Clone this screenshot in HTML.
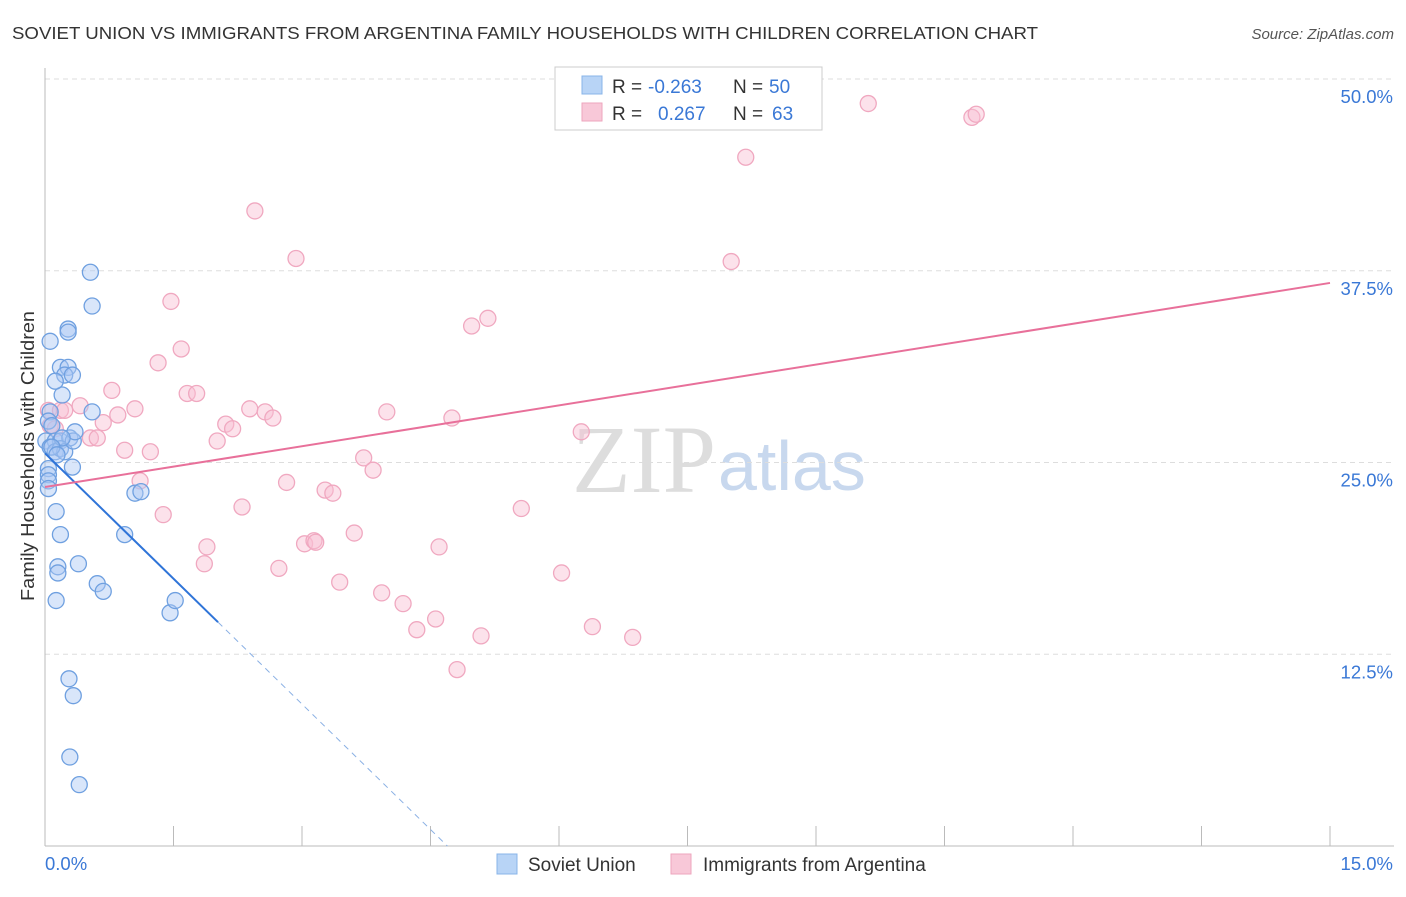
<!DOCTYPE html>
<html><head><meta charset="utf-8"><style>
body{margin:0;background:#fff;font-family:"Liberation Sans",sans-serif}
</style></head><body>
<svg width="1406" height="892" xmlns="http://www.w3.org/2000/svg" font-family="Liberation Sans, sans-serif">
<text x="12" y="39" font-size="17.5" fill="#333" textLength="1026" lengthAdjust="spacingAndGlyphs">SOVIET UNION VS IMMIGRANTS FROM ARGENTINA FAMILY HOUSEHOLDS WITH CHILDREN CORRELATION CHART</text>
<text x="1394" y="39" font-size="15" fill="#555" text-anchor="end" font-style="italic">Source: ZipAtlas.com</text>
<text x="716" y="492" font-size="96" fill="#ddd" text-anchor="end" font-family="Liberation Serif, serif">ZIP</text>
<text x="718" y="490" font-size="70" fill="#c8d8ee">atlas</text>
<g id="grid"></g><g id="axes"></g><g id="marks"></g>
<text x="34" y="456" font-size="18" fill="#333" text-anchor="middle" textLength="290" lengthAdjust="spacingAndGlyphs" transform="rotate(-90 34 456)">Family Households with Children</text>
<g>
<rect x="555" y="67" width="267" height="63" fill="#fff" stroke="#ccc"/>
<rect x="582" y="76" width="20" height="18" fill="#b8d4f6" stroke="#88b4e8"/>
<rect x="582" y="103" width="20" height="18" fill="#f8c8d8" stroke="#eea6be"/>
<text x="612" y="93" font-size="19" fill="#333">R =</text>
<text x="648" y="93" font-size="19" fill="#3a78d6">-0.263</text>
<text x="733" y="93" font-size="19" fill="#333">N =</text>
<text x="769" y="93" font-size="19" fill="#3a78d6">50</text>
<text x="612" y="120" font-size="19" fill="#333">R =</text>
<text x="658" y="120" font-size="19" fill="#3a78d6">0.267</text>
<text x="733" y="120" font-size="19" fill="#333">N =</text>
<text x="772" y="120" font-size="19" fill="#3a78d6">63</text>
</g>
<g>
<rect x="497" y="854" width="20" height="20" fill="#b8d4f6" stroke="#88b4e8"/>
<text x="528" y="871" font-size="19" fill="#333">Soviet Union</text>
<rect x="671" y="854" width="20" height="20" fill="#f8c8d8" stroke="#eea6be"/>
<text x="703" y="871" font-size="19" fill="#333">Immigrants from Argentina</text>
</g>
</svg>
<script>
const yTicks=[12.5,25,37.5,50];
const xTickLabels=["0.0%","15.0%"];
const blueX=[0.06,0.04,0.08,0.01,0.12,0.18,0.29,0.06,0.12,0.18,0.23,0.33,0.35,0.04,0.04,0.04,0.04,0.32,0.20,0.18,0.27,0.23,0.32,0.12,0.06,0.27,0.27,0.53,0.55,0.55,0.13,0.18,0.15,0.15,0.39,0.13,0.61,0.68,0.93,1.05,1.12,1.46,1.52,0.28,0.33,0.29,0.40,0.20,0.08,0.14];
const blueY=[28.3,27.7,27.4,26.4,26.4,26.4,26.6,26.0,25.7,25.9,25.7,26.4,27.0,24.6,24.2,23.8,23.3,24.7,29.4,31.2,31.2,30.7,30.7,30.3,32.9,33.7,33.5,37.4,35.2,28.3,21.8,20.3,18.2,17.8,18.4,16.0,17.1,16.6,20.3,23.0,23.1,15.2,16.0,10.9,9.8,5.8,4.0,26.6,26.0,25.5];
const pinkX=[0.04,0.06,0.12,0.18,0.23,0.41,0.53,0.61,0.68,0.78,0.85,0.93,1.05,1.11,1.23,1.32,1.38,1.47,1.59,1.66,1.77,1.89,1.86,2.01,2.11,2.19,2.30,2.39,2.45,2.57,2.66,2.82,2.73,2.93,3.03,3.14,3.16,3.27,3.36,3.44,3.61,3.72,3.83,3.93,3.99,4.18,4.34,4.56,4.60,4.75,4.81,4.98,5.09,5.17,5.56,6.03,6.26,6.39,6.86,8.01,8.18,9.61,10.82,10.87];
const pinkY=[28.4,27.4,27.2,28.4,28.4,28.7,26.6,26.6,27.6,29.7,28.1,25.8,28.5,23.8,25.7,31.5,21.6,35.5,32.4,29.5,29.5,19.5,18.4,26.4,27.5,27.2,22.1,28.5,41.4,28.3,27.9,23.7,18.1,38.3,19.7,19.9,19.8,23.2,23.0,17.2,20.4,25.3,24.5,16.5,28.3,15.8,14.1,14.8,19.5,27.9,11.5,33.9,13.7,34.4,22.0,17.8,27.0,14.3,13.6,38.1,44.9,48.4,47.5,47.7];
const blueTrend=[25.6,-5.45];
const pinkTrend=[23.4,0.887];
const X0=45,X1=1330,Y0=846,Y50=79;
const sx=v=>X0+v/15*(X1-X0), sy=v=>Y0-v/50*(Y0-Y50);
const NS="http://www.w3.org/2000/svg";
function mk(t,a,p){const e=document.createElementNS(NS,t);for(const k in a)e.setAttribute(k,a[k]);document.getElementById(p).appendChild(e);return e;}
yTicks.forEach(t=>{
 const l=mk('line',{x1:X0,x2:1394,y1:sy(t),y2:sy(t),stroke:'#ddd','stroke-dasharray':'5,4'},'grid');
 
 
 const tx=mk('text',{x:1393,y:sy(t)+24,'font-size':18.5,fill:'#3a78d6','text-anchor':'end'},'grid');
 tx.textContent=t.toFixed(1)+'%';
 
 
});
const ax=mk('line',{x1:X0,x2:X0,y1:68,y2:Y0,stroke:'#bbb'},'axes');


const bx=mk('line',{x1:X0,x2:1394,y1:Y0,y2:Y0,stroke:'#bbb'},'axes');


for(let i=0;i<=10;i++){const t=mk('line',{x1:sx(i*1.5),x2:sx(i*1.5),y1:826,y2:Y0,stroke:'#bbb'},'axes');
 
 }
xTickLabels.forEach((s,i)=>{const t=mk('text',{x:i?1393:45,y:870,'font-size':18.5,fill:'#3a78d6','text-anchor':i?'end':'start'},'axes');t.textContent=s;
 
 });
pinkX.forEach((x,i)=>{const c=mk('circle',{cx:sx(x),cy:sy(pinkY[i]),r:8,fill:'rgba(248,190,210,0.45)',stroke:'#f0a8c0','stroke-width':1.3},'marks');
 
 });
blueX.forEach((x,i)=>{const c=mk('circle',{cx:sx(x),cy:sy(blueY[i]),r:8,fill:'rgba(170,200,245,0.45)',stroke:'#6fa0e0','stroke-width':1.3},'marks');
 
 });
const bEnd=-blueTrend[0]/blueTrend[1], bSolid=2.02;
const b1=mk('line',{x1:sx(0),y1:sy(blueTrend[0]),x2:sx(bSolid),y2:sy(blueTrend[0]+blueTrend[1]*bSolid),stroke:'#2f74d8','stroke-width':2},'marks');


const b2=mk('line',{x1:sx(bSolid),y1:sy(blueTrend[0]+blueTrend[1]*bSolid),x2:sx(bEnd),y2:sy(0),stroke:'#8ab0e4','stroke-width':1,'stroke-dasharray':'6,5'},'marks');


const p1=mk('line',{x1:sx(0),y1:sy(pinkTrend[0]),x2:sx(15),y2:sy(pinkTrend[0]+pinkTrend[1]*15),stroke:'#e8709a','stroke-width':2},'marks');


</script>
</body></html>
